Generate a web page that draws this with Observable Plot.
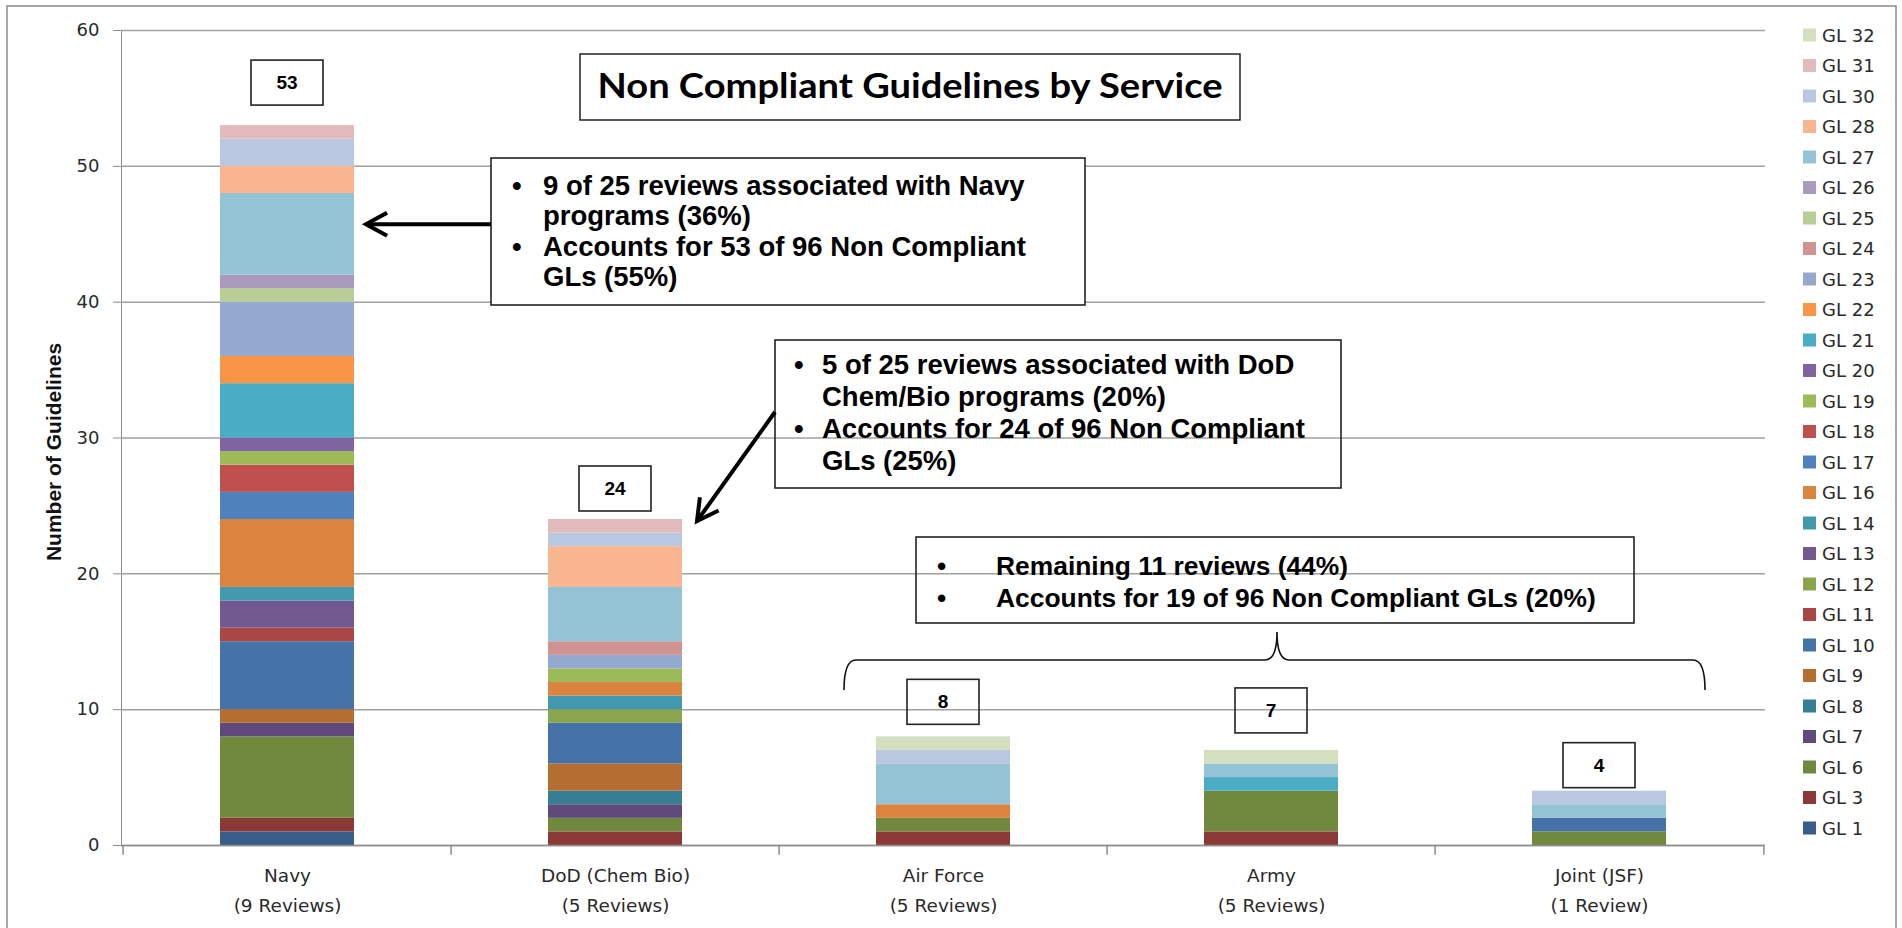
<!DOCTYPE html>
<html><head><meta charset="utf-8">
<script src="https://cdn.jsdelivr.net/npm/d3@7"></script>
<script src="https://cdn.jsdelivr.net/npm/@observablehq/plot@0.6"></script>
<style>
html,body{margin:0;padding:0;background:#fff;}
#wrap{position:relative;width:1902px;height:928px;overflow:hidden;background:#fff;}
#wrap > svg{position:absolute;left:0;top:0;}
#chart text{fill:#2a2a2a;}
</style></head><body><div id="wrap"><div id="chart"></div></div>
<script>
// ---- data ----
const categories = ["Navy", "DoD (Chem Bio)", "Air Force", "Army", "Joint (JSF)"];
const reviewLabels = ["(9 Reviews)", "(5 Reviews)", "(5 Reviews)", "(5 Reviews)", "(1 Review)"];
const guidelines = ["GL 1","GL 3","GL 6","GL 7","GL 8","GL 9","GL 10","GL 11","GL 12","GL 13","GL 14","GL 16","GL 17","GL 18","GL 19","GL 20","GL 21","GL 22","GL 23","GL 24","GL 25","GL 26","GL 27","GL 28","GL 30","GL 31","GL 32"];
const navy       = [1,1,6,1,0,1,5,1,0,2,1,5,2,2,1,1,4,2,4,0,1,1,6,2,2,1,0];
const dodChemBio = [0,1,1,1,1,2,3,0,1,0,1,1,0,0,1,0,0,0,1,1,0,0,4,3,1,1,0];
const airForce   = [0,1,1,0,0,0,0,0,0,0,0,1,0,0,0,0,0,0,0,0,0,0,3,0,1,0,1];
const army       = [0,1,3,0,0,0,0,0,0,0,0,0,0,0,0,0,1,0,0,0,0,0,1,0,0,0,1];
const jointJsf   = [0,0,1,0,0,0,1,0,0,0,0,0,0,0,0,0,0,0,0,0,0,0,1,0,1,0,0];
const yTicks = [0,10,20,30,40,50,60];
const titleText = "Non Compliant Guidelines by Service";
const yAxisTitle = "Number of Guidelines";
const callout1 = ["9 of 25 reviews associated with Navy", "programs (36%)", "Accounts for 53 of 96 Non Compliant", "GLs (55%)"];
const callout2 = ["5 of 25 reviews associated with DoD", "Chem/Bio programs (20%)", "Accounts for 24 of 96 Non Compliant", "GLs (25%)"];
const callout3 = ["Remaining 11 reviews (44%)", "Accounts for 19 of 96 Non Compliant GLs (20%)"];

// ---- styles ----
const glColors = ["#385D8A","#8C3836","#71893F","#5F4A7B","#357E93","#B66D31","#4572A7","#AA4643","#89A54E","#71588F","#4198AF","#DB843D","#4F81BD","#C0504D","#9BBB59","#8064A2","#4BACC6","#F79646","#93A9CF","#D19392","#B9CD96","#A99BBD","#93C3D4","#F9B590","#BAC7E0","#E1BBBB","#D3DFBF"];

const series = [navy, dodChemBio, airForce, army, jointJsf];
const rows = [];
categories.forEach((c, ci) => guidelines.forEach((g, gi) => {
  if (series[ci][gi] > 0) rows.push({service: c, gl: g, count: series[ci][gi]});
}));
const totals = series.map(s => d3.sum(s));

const W = 1902, H = 928, mL = 121, mR = 137, mT = 30, mB = 83;
const halfStep = (W - mL - mR) / categories.length / 2;

const plot = Plot.plot({
  width: W, height: H,
  marginLeft: mL, marginRight: mR, marginTop: mT, marginBottom: mB,
  style: {fontFamily: "'DejaVu Sans', Verdana, sans-serif", fontSize: "18px", color: "#8c8c8c", background: "transparent"},
  x: {domain: categories, axis: null, paddingInner: 0.59, paddingOuter: 0.295},
  y: {domain: [0, 60], ticks: yTicks, tickSize: 8, tickPadding: 14, line: true, label: null, tickFormat: d => String(d)},
  color: {domain: guidelines, range: glColors},
  marks: [
    Plot.ruleY(yTicks, {stroke: "#a0a0a0", strokeWidth: 1.5}),
    Plot.barY(rows, {x: "service", y: "count", fill: "gl"}),
    Plot.ruleX(categories, {x: d => d, y1: 0, y2: -0.72, dx: -halfStep, stroke: "#8c8c8c", strokeWidth: 1.5}),
    Plot.ruleX(categories.slice(-1), {x: d => d, y1: 0, y2: -0.72, dx: halfStep, stroke: "#8c8c8c", strokeWidth: 1.5}),
    Plot.ruleY([0], {stroke: "#8c8c8c", strokeWidth: 1.5}),
    Plot.text(categories, {x: d => d, y: 0, dy: 30.6, text: d => d, fontSize: 18.5}),
    Plot.text(categories, {x: d => d, y: 0, dy: 60.6, text: (d, i) => reviewLabels[i], fontSize: 18.5})
  ]
});
document.getElementById("chart").appendChild(plot);

// ---- overlay annotations ----
const xs = plot.scale("x"), ys = plot.scale("y"), cs = plot.scale("color");
const cx = c => xs.apply(c) + xs.bandwidth / 2;
const svg = d3.select("#wrap").append("svg").attr("width", W).attr("height", H);
const arial = "'Liberation Sans', Arial, sans-serif";

// chart frame
svg.append("path").attr("d", `M7,${H+2}V6H1896V${H+2}`).attr("fill", "none").attr("stroke", "#8a8a8a").attr("stroke-width", 1.5);

// y-axis title
svg.append("text").attr("transform", "translate(61,452) rotate(-90)")
  .attr("text-anchor", "middle").attr("font-family", arial)
  .attr("font-weight", "bold").attr("font-size", 21).attr("fill", "#111").text(yAxisTitle);

// title
svg.append("rect").attr("x", 580).attr("y", 54).attr("width", 660).attr("height", 66)
  .attr("fill", "#fff").attr("stroke", "#222").attr("stroke-width", 1.5);
svg.append("text").attr("x", 910).attr("y", 98).attr("text-anchor", "middle")
  .attr("font-family", "Lato, 'Liberation Sans', sans-serif").attr("font-weight", "bold").attr("font-size", 35)
  .attr("textLength", 625).attr("lengthAdjust", "spacingAndGlyphs").attr("fill", "#000").text(titleText);

// value boxes
const gaps = [20, 8, 12, 17, 3];
categories.forEach((c, i) => {
  const bx = cx(c), bottom = ys.apply(totals[i]) - gaps[i];
  svg.append("rect").attr("x", bx - 36).attr("y", bottom - 45).attr("width", 72).attr("height", 45)
    .attr("fill", "none").attr("stroke", "#222").attr("stroke-width", 1.6);
  svg.append("text").attr("x", bx).attr("y", bottom - 16).attr("text-anchor", "middle")
    .attr("font-family", arial).attr("font-weight", "bold").attr("font-size", 19)
    .attr("fill", "#000").text(totals[i]);
});

// callout boxes
function callout(box, fill, lines, bullets, bulletX, textX, baselines, size) {
  svg.append("rect").attr("x", box[0]).attr("y", box[1]).attr("width", box[2]).attr("height", box[3])
    .attr("fill", fill).attr("stroke", "#222").attr("stroke-width", 1.6);
  lines.forEach((t, i) => {
    const tx = (s, x) => svg.append("text").attr("x", x).attr("y", baselines[i])
      .attr("font-family", arial).attr("font-weight", "bold")
      .attr("font-size", size).attr("fill", "#000").text(s);
    if (bullets[i]) tx("\u2022", bulletX);
    tx(t, textX);
  });
}
callout([491, 158, 594, 147], "#fff", callout1, [1,0,1,0], 512, 543, [195, 225, 256, 286], 27.5);
callout([775, 340, 566, 148], "none", callout2, [1,0,1,0], 794, 822, [374, 406, 438, 470], 27.5);
callout([916, 537, 718, 86], "none", callout3, [1,1], 937, 996, [575, 607], 26.4);

// arrows
function arrow(x1, y1, x2, y2) {
  const a = Math.atan2(y2 - y1, x2 - x1), L = 24, h = 0.5;
  const p1 = [x2 - L * Math.cos(a - h), y2 - L * Math.sin(a - h)];
  const p2 = [x2 - L * Math.cos(a + h), y2 - L * Math.sin(a + h)];
  svg.append("path").attr("d", `M${x1},${y1}L${x2},${y2}`).attr("stroke", "#000").attr("stroke-width", 4).attr("fill", "none");
  svg.append("path").attr("d", `M${p1[0]},${p1[1]}L${x2},${y2}L${p2[0]},${p2[1]}`)
    .attr("stroke", "#000").attr("stroke-width", 4).attr("fill", "none").attr("stroke-linejoin", "miter");
}
arrow(491, ys.apply(45.7), xs.apply("Navy") + xs.bandwidth + 12, ys.apply(45.7));
arrow(775, 412, xs.apply("DoD (Chem Bio)") + xs.bandwidth + 15, ys.apply(24) + 2);

// brace
svg.append("path").attr("d", "M844,690Q844,660 856,660H1265Q1277,660 1277,632Q1277,660 1289,660H1693Q1705,660 1705,690")
  .attr("fill", "none").attr("stroke", "#111").attr("stroke-width", 1.6);

// legend
guidelines.slice().reverse().forEach((g, i) => {
  const yc = 35 + i * 30.5;
  svg.append("rect").attr("x", 1803).attr("y", yc - 6.5).attr("width", 13).attr("height", 13).attr("fill", cs.apply(g));
  svg.append("text").attr("x", 1822).attr("y", yc + 6.5).attr("font-family", "'DejaVu Sans', Verdana, sans-serif")
    .attr("font-size", 18).attr("fill", "#2a2a2a").text(g);
});
</script></body></html>
